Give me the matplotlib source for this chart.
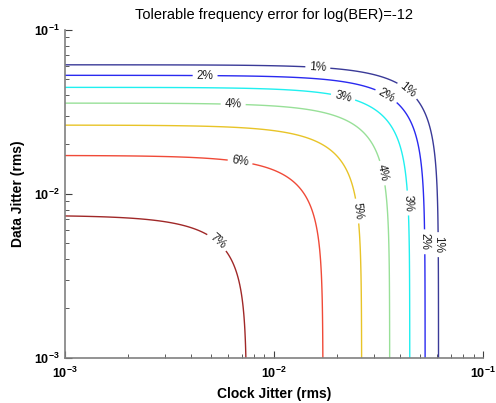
import numpy as np
import matplotlib
matplotlib.use("Agg")
import matplotlib.pyplot as plt

plt.rcParams['font.family'] = ['Liberation Sans', 'DejaVu Sans']

# Contour levels (tolerable frequency error, %)
levels = [1, 2, 3, 4, 5, 6, 7]
# Clock jitter where each contour meets the bottom edge (data jitter -> 0)
clock_jitter_edge = [0.0603, 0.0516, 0.0443, 0.0351, 0.0258, 0.0170, 0.00735]
# Data jitter where each contour meets the left edge (clock jitter -> 0)
data_jitter_edge = [0.0621, 0.0540, 0.0449, 0.0364, 0.0267, 0.0173, 0.00745]
line_colors = ['#3a3a98', '#2a2af0', '#20f0f0', '#98e098', '#e8c428', '#f04a38', '#a02828']

# Combined-jitter radius per level and the resulting tolerance field
radii = [(a + b) / 2 for a, b in zip(clock_jitter_edge, data_jitter_edge)]
r_table = [0.0] + radii[::-1] + [0.15]
f_table = [7.8] + levels[::-1] + [-10.0]

cj = np.logspace(-3, -1, 500)
dj = np.logspace(-3, -1, 500)
CJ, DJ = np.meshgrid(cj, dj)
R = np.sqrt(CJ**2 + DJ**2)
Z = np.interp(R, r_table, f_table)

fig = plt.figure(figsize=(4.96, 4.03), dpi=100)
ax = fig.add_axes([0.131, 0.112, 0.843, 0.814])
cs = ax.contour(CJ, DJ, Z, levels=levels, colors=line_colors, linewidths=1.0)
ax.set_xscale('log')
ax.set_yscale('log')
ax.set_xlim(1e-3, 1e-1)
ax.set_ylim(1e-3, 1e-1)

label_pos = [(0.0162, 0.0594), (0.0438, 0.0431), (0.0603, 0.0049),
             (0.00468, 0.0525), (0.034, 0.0385), (0.0516, 0.0051),
             (0.0214, 0.039), (0.0443, 0.0088),
             (0.00637, 0.0339), (0.0304, 0.0131),
             (0.0239, 0.0078), (0.00687, 0.0155), (0.00522, 0.0049)]
ax.clabel(cs, fmt='%d%%', manual=label_pos, inline=True, fontsize=8.5, colors='#202020',
          inline_spacing=4)

for s in ['top', 'right']:
    ax.spines[s].set_visible(False)
for s in ['left', 'bottom']:
    ax.spines[s].set_color('#808080')
    ax.spines[s].set_linewidth(1.2)
ax.tick_params(which='both', direction='in', color='#404040', labelsize=9)
ax.tick_params(which='major', length=5)
ax.tick_params(which='minor', length=3)
for lab in ax.get_xticklabels() + ax.get_yticklabels():
    lab.set_fontweight('bold')
ax.tick_params(axis='x', pad=6)
ax.tick_params(axis='y', pad=4)

ax.set_title('Tolerable frequency error for log(BER)=-12', fontsize=10.5, pad=8)
ax.set_xlabel('Clock Jitter (rms)', fontsize=10, fontweight='bold', labelpad=4)
ax.set_ylabel('Data Jitter (rms)', fontsize=10, fontweight='bold', labelpad=6)

fig.savefig('out.png', dpi=100)
